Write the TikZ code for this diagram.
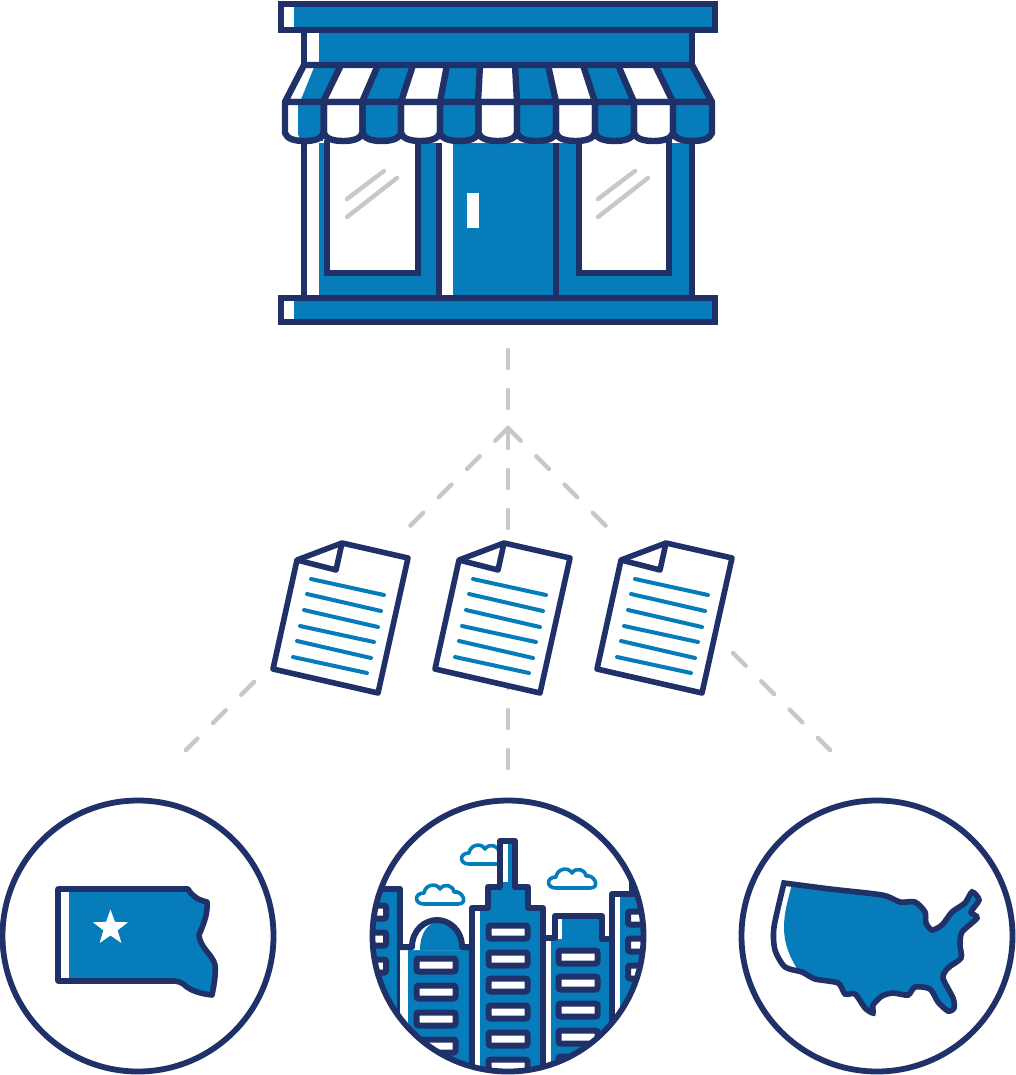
\documentclass[tikz,border=0pt]{standalone}
\usetikzlibrary{calc}
\definecolor{navy}{HTML}{1F3168}
\definecolor{brand}{HTML}{067DBA}
\definecolor{rule}{HTML}{C8C8C8}
\tikzset{
  ink/.style={draw=navy,line width=#1,line join=round},
  ink/.default=6.4pt,
  crisp/.style={draw=navy,line width=6.4pt,line join=miter},
  wash/.style={fill=brand,draw=none},
  blank/.style={fill=white,draw=none},
  guide/.style={draw=rule,line width=4.4pt,line cap=round,dash pattern=on 18pt off 22pt},
  glint/.style={draw=rule,line width=4.4pt,line cap=round},
  textline/.style={draw=brand,line width=4pt,line cap=round},
  sheet/.style={draw=navy,fill=white,line width=5.6pt,line join=round},
  ring/.style={draw=navy,line width=5.8pt},
  pane/.style={draw=navy,fill=white,line width=6pt,rounded corners=2pt},
  puff/.style={draw=brand,fill=white,line width=3.6pt,line join=round},
}
% Outline of the contiguous United States, sharp at its north-west corner
\newcommand{\usoutline}{plot[smooth,tension=.45] coordinates {
  (784,883) (830,889) (882,895) (900,902) (915,902) (925,912) (926,923) (932,930) (942,925)
  (952,912) (965,903) (972,892) (979,900) (971,912) (977,918) (962,932) (960,945) (961,958)
  (948,968) (943,978) (953,998) (954,1008) (948,1011) (938,1002) (930,989) (915,987)
  (908,995) (893,993) (882,996) (873,1005) (873,1013) (865,1008) (855,994) (845,994)
  (838,983) (815,979) (802,972) (785,967) (775,950) (774,927) (784,883)} -- cycle}
% One small cloud, placed by the shift given as argument
\newcommand{\cloudat}[2]{\path[puff,shift={(#1,#2)}] (424,904)
  .. controls (414,904) and (414,893) .. (424,893)
  .. controls (425,885) and (436,882) .. (440,889)
  .. controls (444,883) and (453,885) .. (454,892)
  .. controls (462,890) and (469,904) .. (458,904) -- cycle;}
\begin{document}
\begin{tikzpicture}[x=1pt,y=-1pt]
\useasboundingbox (0,0) rectangle (1015,1075);

% ---- named ends of the dashed connectors
\coordinate (shopfoot) at (508,350);
\coordinate (cityhead) at (508,768);
\coordinate (apex) at (508,428);
\coordinate (docAtop) at (408,528);
\coordinate (docCtop) at (608,528);
\coordinate (docAfoot) at (254,682);
\coordinate (statehead) at (186,750);
\coordinate (docCfoot) at (733,653);
\coordinate (nationhead) at (830,750);

\draw[guide] (shopfoot) -- (cityhead);
\draw[guide] (apex) -- (docAtop);
\draw[guide] (apex) -- (docCtop);
\draw[guide] (docAfoot) -- (statehead);
\draw[guide] (docCfoot) -- (nationhead);

% ---- shop walls
\fill[blank] (307,143) rectangle (319,296);
\fill[wash] (319,143) rectangle (692,296);
\fill[blank] (442,143) rectangle (453,296);
\fill[blank] (467,193) rectangle (479,228);
\draw[ink] (304,143) -- (304,296);
\draw[ink] (692,143) -- (692,296);
\draw[ink] (439,143) -- (439,296);
\draw[ink] (556,143) -- (556,296);
\foreach \wl/\wr in {327/418,579/669}{
  \path[crisp,fill=white] (\wl,140) -- (\wl,273) -- (\wr,273) -- (\wr,140);
}
\foreach \dx in {0,251}{
  \draw[glint,shift={(\dx,0)}] (347,199) -- (384,171);
  \draw[glint,shift={(\dx,0)}] (347,217) -- (397,178);
}

% ---- fascia
\fill[blank] (304,33) rectangle (319,65);
\fill[wash] (319,33) rectangle (692,65);
\draw[ink] (304,30) -- (304,65);
\draw[ink] (692,30) -- (692,65);

% ---- awning slope
\fill[blank] (304,65) -- (692,65) -- (712,102) -- (285,102) -- cycle;
\fill[wash] (315,65) -- (341,65) -- (323,102) -- (300,102) -- cycle;
\foreach \ta/\ba/\tb/\bb in {378/362/413/401,447/440/480/478,515/517/548/556,583/595/618/634,655/673/693/712}{
  \fill[wash] (\ta,65) -- (\tb,65) -- (\bb,102) -- (\ba,102) -- cycle;
}
\foreach \ta/\ba in {341/323,378/362,413/401,447/440,480/478,515/517,548/556,583/595,618/634,655/673}{
  \draw[ink] (\ta,65) -- (\ba,102);
}
\draw[ink] (285,102) -- (304,65) -- (692,65) -- (712,102) -- cycle;

% ---- awning valance
\foreach \la/\ra/\tone in {285/323.8/white,323.8/362.5/white,362.5/401/brand,401/440/white,440/478.5/brand,
  478.5/517/white,517/556/brand,556/595/white,595/634/brand,634/673/white,673/712/brand}{
  \pgfmathsetmacro{\mx}{(\la+\ra)/2}
  \path[fill=\tone] (\la,102) -- (\la,133) .. controls (\la+2,139) and (\la+10,141) .. (\mx,141)
    .. controls (\ra-10,141) and (\ra-2,139) .. (\ra,133) -- (\ra,102) -- cycle;
}
\fill[wash] (298,102) -- (298,134) .. controls (299,139) and (303,141) .. (305,141) -- (323,141) -- (323,102) -- cycle;
\foreach \la/\ra in {285/323.8,323.8/362.5,362.5/401,401/440,440/478.5,
  478.5/517,517/556,556/595,595/634,634/673,673/712}{
  \pgfmathsetmacro{\mx}{(\la+\ra)/2}
  \draw[ink] (\la,102) -- (\la,133) .. controls (\la+2,139) and (\la+10,141) .. (\mx,141)
    .. controls (\ra-10,141) and (\ra-2,139) .. (\ra,133) -- (\ra,102) -- cycle;
}

% ---- cornice and plinth
\foreach \ya/\yb in {4/30,298/322}{
  \fill[blank] (281,\ya) rectangle (294,\yb);
  \fill[wash] (294,\ya) rectangle (715,\yb);
  \draw[crisp] (281,\ya) rectangle (715,\yb);
}

% ---- three tilted documents
\foreach \dx in {0,162,324}{
  \begin{scope}[shift={(\dx,0)}]
    \path[sheet] (297,560) -- (342,543) -- (408,558) -- (378,693) -- (273,669) -- cycle;
    \draw[ink=5.6pt] (297,560) -- (336,570) -- (342,543);
    \draw[textline] (311,579) -- (384,595);
    \draw[textline] (307,594) -- (381,611);
    \draw[textline] (304,610) -- (378,627);
    \draw[textline] (300,626) -- (374,642);
    \draw[textline] (297,641) -- (371,658);
    \draw[textline] (293,657) -- (367,673);
  \end{scope}
}

% ---- state badge
\path[ring] (138,936) circle (135.5pt);
\path[wash] (69,889) -- (188,889) .. controls (192,896) and (198,900) .. (207,902)
  .. controls (208,915) and (203,925) .. (199,935)
  .. controls (200,948) and (213,955) .. (215,965)
  .. controls (216,975) and (214,985) .. (212,995)
  .. controls (203,994) and (194,992) .. (187,987)
  .. controls (182,982) and (177,981) .. (173,981) -- (69,981) -- cycle;
\fill[blank] (61,889) rectangle (69,981);
\draw[ink=5.6pt] (58,889) -- (188,889) .. controls (192,896) and (198,900) .. (207,902)
  .. controls (208,915) and (203,925) .. (199,935)
  .. controls (200,948) and (213,955) .. (215,965)
  .. controls (216,975) and (214,985) .. (212,995)
  .. controls (203,994) and (194,992) .. (187,987)
  .. controls (182,982) and (177,981) .. (173,981) -- (58,981) -- cycle;
\fill[white] (110.5,909.5) -- (114.9,921.9) -- (128.1,922.3) -- (117.6,930.3) -- (121.4,943)
  -- (110.5,935.5) -- (99.6,943) -- (103.4,930.3) -- (92.9,922.3) -- (106.1,921.9) -- cycle;

% ---- city badge
\begin{scope}
  \clip (508,936) circle (135.5pt);
  \cloudat{0}{0}
  \cloudat{45}{-40}
  \cloudat{132}{-16}
  % far left block
  \fill[wash] (360,889) rectangle (400,1075);
  \draw[ink=6pt] (360,889) -- (400,889) -- (400,1075);
  \foreach \wy in {912,939,966}{ \path[pane] (350,\wy-6.5) rectangle (386,\wy+6.5); }
  % domed block
  \fill[blank] (400,947) rectangle (408,1075);
  \fill[wash] (408,947) rectangle (472,1075);
  \fill[white] (412,950) .. controls (412,930) and (425,920) .. (437,920)
    .. controls (449,920) and (462,930) .. (462,950) -- cycle;
  \fill[brand] (420,950) .. controls (420,934) and (427,923) .. (438,922)
    .. controls (449,922) and (462,930) .. (462,950) -- cycle;
  \draw[ink=6pt] (400,947) -- (412,947) .. controls (412,930) and (425,920) .. (437,920)
    .. controls (449,920) and (462,930) .. (462,947) -- (472,947);
  \foreach \wy in {965,992,1019,1046}{ \path[pane] (416.5,\wy-6.5) rectangle (455.5,\wy+6.5); }
  % central tower
  \fill[wash] (472,908) -- (488,908) -- (488,887) -- (500,887) -- (500,841) -- (515,841) -- (515,887)
    -- (528,887) -- (528,908) -- (543,908) -- (543,1075) -- (472,1075) -- cycle;
  \fill[blank] (475,911) rectangle (480,1075);
  \fill[blank] (503,844) rectangle (508,882);
  \draw[ink=6pt] (472,1075) -- (472,908) -- (488,908) -- (488,887) -- (500,887) -- (500,841) -- (515,841)
    -- (515,887) -- (528,887) -- (528,908) -- (543,908) -- (543,1075);
  \foreach \wy in {932,959,985,1012,1039,1066}{ \path[pane] (488.5,\wy-6.5) rectangle (527.5,\wy+6.5); }
  % right-hand tower
  \fill[blank] (546,939) rectangle (551,1075);
  \fill[wash] (551,939) rectangle (612,1075);
  \fill[blank] (557,918) rectangle (562,938);
  \fill[wash] (562,918) rectangle (602,939);
  \draw[ink=6pt] (543,938) -- (555,938) -- (555,916) -- (602,916) -- (602,939) -- (612,939);
  \foreach \wy in {957,983,1010,1037,1063}{ \path[pane] (558.5,\wy-6.5) rectangle (597.5,\wy+6.5); }
  % far right block
  \fill[blank] (615,897) rectangle (620,1075);
  \fill[wash] (620,897) rectangle (660,1075);
  \draw[ink=6pt] (612,1075) -- (612,894) -- (660,894);
  \draw[ink=6pt] (632,870) -- (632,894);
  \foreach \wy in {918,945,972}{ \path[pane] (628,\wy-6.5) rectangle (668,\wy+6.5); }
\end{scope}
\path[ring] (508,936) circle (135.5pt);

% ---- nation badge
\path[ring] (877,936) circle (135.5pt);
\fill[white] \usoutline;
\begin{scope}
  \clip \usoutline;
  \fill[brand] (793,880) .. controls (788,900) and (784,912) .. (784,927)
    .. controls (784,940) and (787,952) .. (796,967) -- (796,1020) -- (990,1020) -- (990,880) -- cycle;
\end{scope}
\draw[ink=5.6pt,line join=miter] \usoutline;
\end{tikzpicture}
\end{document}
